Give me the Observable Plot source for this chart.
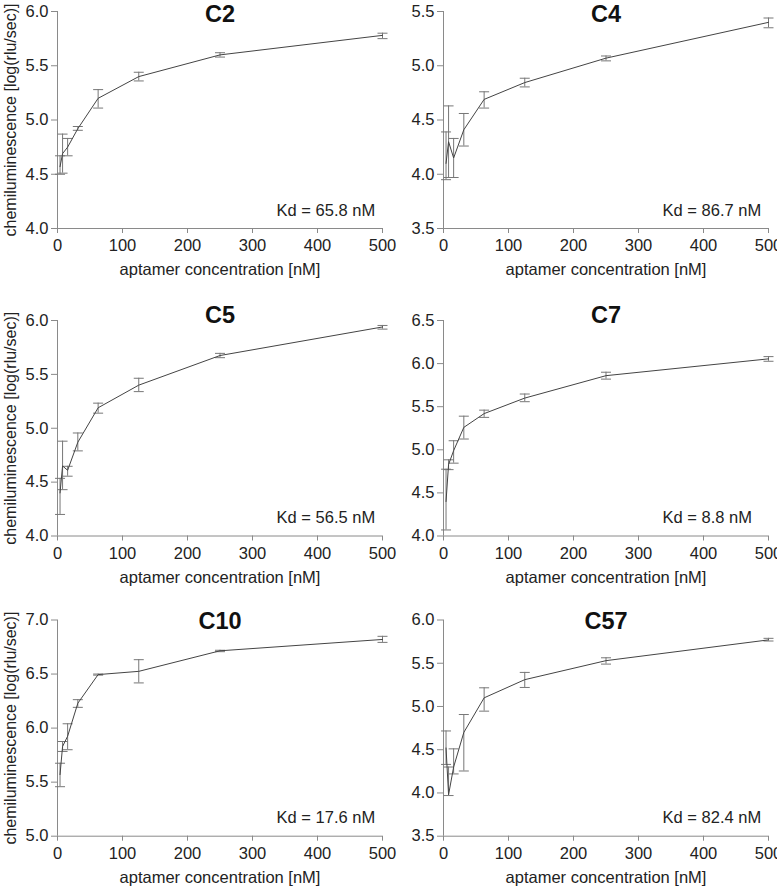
<!DOCTYPE html>
<html>
<head>
<meta charset="utf-8">
<script src="https://cdn.jsdelivr.net/npm/d3@7"></script>
<script src="https://cdn.jsdelivr.net/npm/@observablehq/plot@0.6"></script>
<style>
  html, body { margin: 0; padding: 0; background: #fff; }
  #chart { position: relative; width: 777px; height: 886px; overflow: hidden; font-family: "Liberation Sans", Arial, sans-serif; }
  #chart svg { position: absolute; overflow: visible; }
</style>
</head>
<body>
<div id="chart"></div>
<script>
// ---- data ----
const concentrations = [3.9, 7.8, 15.6, 31.25, 62.5, 125, 250, 500];
const xTicks = [0, 100, 200, 300, 400, 500];
const panelNames = ["C2", "C4", "C5", "C7", "C10", "C57"];
const kdLabels = ["Kd = 65.8 nM", "Kd = 86.7 nM", "Kd = 56.5 nM", "Kd = 8.8 nM", "Kd = 17.6 nM", "Kd = 82.4 nM"];
const yDomains = [[4, 6], [3.5, 5.5], [4, 6], [4, 6.5], [5, 7], [3.5, 6]];

const c2Mean = [4.57, 4.69, 4.75, 4.92, 5.20, 5.40, 5.60, 5.78];
const c2Low  = [4.50, 4.51, 4.67, 4.905, 5.11, 5.36, 5.58, 5.75];
const c2High = [4.67, 4.87, 4.83, 4.94, 5.28, 5.44, 5.62, 5.80];

const c4Mean = [4.10, 4.30, 4.15, 4.41, 4.69, 4.845, 5.07, 5.40];
const c4Low  = [3.95, 3.97, 3.97, 4.26, 4.61, 4.805, 5.045, 5.35];
const c4High = [4.39, 4.63, 4.33, 4.56, 4.76, 4.885, 5.09, 5.44];

const c5Mean = [4.40, 4.65, 4.61, 4.87, 5.19, 5.40, 5.675, 5.94];
const c5Low  = [4.20, 4.43, 4.555, 4.79, 5.14, 5.34, 5.655, 5.92];
const c5High = [4.535, 4.88, 4.647, 4.956, 5.233, 5.464, 5.695, 5.954];

const c7Mean = [4.40, 4.83, 4.99, 5.26, 5.42, 5.60, 5.86, 6.055];
const c7Low  = [4.07, 4.77, 4.845, 5.125, 5.376, 5.558, 5.82, 6.027];
const c7High = [4.775, 4.884, 5.105, 5.39, 5.46, 5.647, 5.90, 6.081];

const c10Mean = [5.57, 5.83, 5.925, 6.23, 6.495, 6.525, 6.715, 6.82];
const c10Low  = [5.458, 5.784, 5.80, 6.192, 6.49, 6.418, 6.707, 6.793];
const c10High = [5.675, 5.876, 6.04, 6.263, 6.50, 6.633, 6.72, 6.849];

const c57Mean = [4.52, 3.98, 4.30, 4.70, 5.10, 5.31, 5.53, 5.77];
const c57Low  = [4.33, 3.97, 4.22, 4.254, 4.946, 5.22, 5.49, 5.757];
const c57High = [4.717, 4.30, 4.51, 4.907, 5.216, 5.394, 5.563, 5.788];

const means = [c2Mean, c4Mean, c5Mean, c7Mean, c10Mean, c57Mean];
const lows = [c2Low, c4Low, c5Low, c7Low, c10Low, c57Low];
const highs = [c2High, c4High, c5High, c7High, c10High, c57High];

// ---- layout ----
const cols = [
  {left: 0, width: 390, marginLeft: 57, marginRight: 8},
  {left: 390, width: 387, marginLeft: 53, marginRight: 9}
];
const rows = [
  {top: 0, height: 290, marginTop: 11, marginBottom: 62, titleDy: 10},
  {top: 290, height: 296, marginTop: 30, marginBottom: 50.5, titleDy: 2.5},
  {top: 586, height: 300, marginTop: 33.5, marginBottom: 50.3, titleDy: 8.5}
];

const capSymbol = {
  draw(context, size) {
    const w = Math.sqrt(size / Math.PI);
    context.moveTo(-w, 0);
    context.lineTo(w, 0);
  }
};

const chart = document.getElementById("chart");
const fontFamily = "'Liberation Sans', Arial, sans-serif";

panelNames.forEach((name, i) => {
  const col = cols[i % 2];
  const row = rows[Math.floor(i / 2)];
  const data = concentrations.map((c, j) => ({
    conc: c, mean: means[i][j], lo: lows[i][j], hi: highs[i][j]
  }));
  const [y0, y1] = yDomains[i];
  const yTicks = d3.range(y0, y1 + 1e-9, 0.5);
  const marks = [
    Plot.ruleX([0], {y1: y0, y2: y1, stroke: "#8a8a8a", strokeWidth: 1}),
    Plot.ruleY([y0], {x1: 0, x2: 500, stroke: "#8a8a8a", strokeWidth: 1}),
    Plot.axisX({ticks: xTicks, tickSize: 5, tickPadding: 6, stroke: "#8a8a8a", fill: "#222",
      fontSize: 16.5, tickFormat: d3.format("d"), label: null}),
    Plot.axisY({ticks: yTicks, tickSize: 6, tickPadding: 3, stroke: "#8a8a8a", fill: "#222",
      fontSize: 16.5, tickFormat: d3.format(".1f"), label: null}),
    Plot.text(["aptamer concentration [nM]"], {frameAnchor: "bottom", dy: 46.5, lineAnchor: "bottom",
      fontSize: 16.5, fill: "#222"}),
    Plot.ruleX(data, {x: "conc", y1: "lo", y2: "hi", stroke: "#777", strokeWidth: 1}),
    Plot.dot(data, {x: "conc", y: "lo", symbol: capSymbol, r: 5, stroke: "#777", strokeWidth: 1, fill: "none"}),
    Plot.dot(data, {x: "conc", y: "hi", symbol: capSymbol, r: 5, stroke: "#777", strokeWidth: 1, fill: "none"}),
    Plot.line(data, {x: "conc", y: "mean", stroke: "#444", strokeWidth: 1}),
    Plot.text([name], {frameAnchor: "top", dy: row.titleDy, lineAnchor: "bottom",
      fontSize: 23.5, fontWeight: "bold", fill: "#111"}),
    Plot.text([kdLabels[i]], {x: [337], frameAnchor: "bottom", dy: -13, lineAnchor: "bottom",
      textAnchor: "start", fontSize: 16.5, fill: "#222"})
  ];
  if (i % 2 === 0) {
    marks.push(Plot.text(["chemiluminescence [log(rlu/sec)]"], {
      frameAnchor: "left", dx: -42, rotate: -90, lineAnchor: "bottom", textAnchor: "middle",
      fontSize: 16, fill: "#222"
    }));
  }
  const svg = Plot.plot({
    width: col.width,
    height: row.height,
    marginLeft: col.marginLeft,
    marginRight: col.marginRight,
    marginTop: row.marginTop,
    marginBottom: row.marginBottom,
    style: {fontFamily, fontSize: "16px", color: "#222", background: "transparent", overflow: "visible"},
    x: {domain: [0, 500]},
    y: {domain: [y0, y1]},
    marks
  });
  svg.style.left = col.left + "px";
  svg.style.top = row.top + "px";
  chart.appendChild(svg);
});
</script>
</body>
</html>
